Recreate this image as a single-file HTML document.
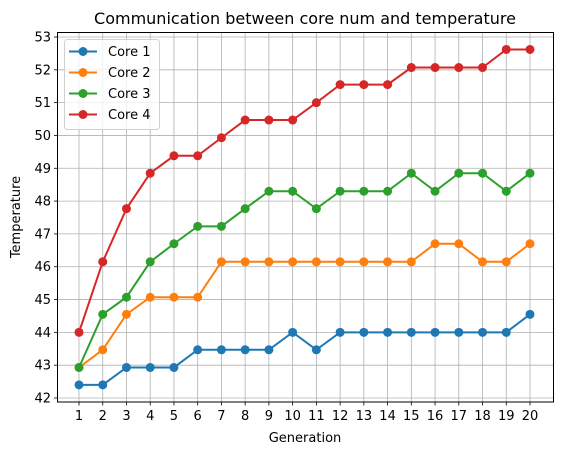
<!DOCTYPE html>
<html><head><meta charset="utf-8"><style>
body{margin:0;background:#fff;}
svg{display:block;font-family:"DejaVu Sans","Liberation Sans",sans-serif;}
</style></head><body>
<svg id="chart" width="562" height="455" viewBox="0 0 562 455">
<rect x="0" y="0" width="562" height="455" fill="#fff"/>
<text x="305" y="24" font-size="16" text-anchor="middle" fill="#000">Communication between core num and temperature</text>
<g id="grid"></g>
<g id="ticks"></g>
<g id="series"></g>
<rect x="57.5" y="32.5" width="496" height="369.5" fill="none" stroke="#000" stroke-width="1"/>
<text x="305" y="442" font-size="13" text-anchor="middle">Generation</text>
<text x="20" y="217" font-size="13" text-anchor="middle" transform="rotate(-90 20 217)">Temperature</text>
<g id="legend"></g>
</svg>
<script>
const generations=[1,2,3,4,5,6,7,8,9,10,11,12,13,14,15,16,17,18,19,20];
const core1=[42.4,42.4,42.93,42.93,42.93,43.47,43.47,43.47,43.47,44,43.47,44,44,44,44,44,44,44,44,44.55];
const core2=[42.93,43.47,44.55,45.07,45.07,45.07,46.15,46.15,46.15,46.15,46.15,46.15,46.15,46.15,46.15,46.7,46.7,46.15,46.15,46.7];
const core3=[42.93,44.55,45.07,46.15,46.7,47.23,47.23,47.77,48.3,48.3,47.77,48.3,48.3,48.3,48.85,48.3,48.85,48.85,48.3,48.85];
const core4=[44,46.15,47.77,48.85,49.38,49.38,49.93,50.47,50.47,50.47,51,51.55,51.55,51.55,52.07,52.07,52.07,52.07,52.62,52.62];
const seriesNames=["Core 1","Core 2","Core 3","Core 4"];
const yTicks=[42,43,44,45,46,47,48,49,50,51,52,53];
const colors=["#1f77b4","#ff7f0e","#2ca02c","#d62728"];
const NS="http://www.w3.org/2000/svg";
function xs(g){return 79+(g-1)*(530-79)/19;}
function ys(v){return 398-(v-42)*(398-37)/11;}
function mk(tag,attrs,parent){const e=document.createElementNS(NS,tag);for(const k in attrs)e.setAttribute(k,attrs[k]);parent.appendChild(e);return e;}
const grid=document.getElementById('grid'),ticks=document.getElementById('ticks');
generations.forEach(g=>{
  const l=mk('line',{x1:xs(g),x2:xs(g),y1:32.5,y2:402,stroke:'#b0b0b0','stroke-width':0.8},grid);
  
  
  const t=mk('line',{x1:xs(g),x2:xs(g),y1:402,y2:405.5,stroke:'#000','stroke-width':0.8},ticks);
  
  
  const tx=mk('text',{x:xs(g),y:420,'font-size':13,'text-anchor':'middle'},ticks);
  tx.textContent=g;
  
  
});
yTicks.forEach(v=>{
  const l=mk('line',{x1:57.5,x2:553.5,y1:ys(v),y2:ys(v),stroke:'#b0b0b0','stroke-width':0.8},grid);
  
  
  const t=mk('line',{x1:54,x2:57.5,y1:ys(v),y2:ys(v),stroke:'#000','stroke-width':0.8},ticks);
  
  
  const tx=mk('text',{x:51,y:ys(v)+4.5,'font-size':13,'text-anchor':'end'},ticks);
  tx.textContent=v;
  
  
});
const sg=document.getElementById('series');
[core1,core2,core3,core4].forEach((d,i)=>{
  const g=mk('g',{},sg);
  
  
  const p=mk('polyline',{points:d.map((v,j)=>xs(generations[j])+','+ys(v)).join(' '),fill:'none',stroke:colors[i],'stroke-width':2}, g);
  
  
  d.forEach((v,j)=>{
    const c=mk('circle',{cx:xs(generations[j]),cy:ys(v),r:4.5,fill:colors[i]},g);
    
    
  });
});
const lg=document.getElementById('legend');
const box=mk('rect',{x:64.5,y:39.5,width:95,height:90,rx:3,fill:'#fff','fill-opacity':0.8,stroke:'#d0d0d0'},lg);


seriesNames.forEach((n,i)=>{
  const y=51.5+i*21;
  const g=mk('g',{},lg);
  
  
  mk('line',{x1:69,x2:97,y1:y,y2:y,stroke:colors[i],'stroke-width':2},g);
  mk('circle',{cx:83,cy:y,r:4.5,fill:colors[i]},g);
  const t=mk('text',{x:108,y:y+4.5,'font-size':13},g);
  t.textContent=n;
});
</script>
</body></html>
